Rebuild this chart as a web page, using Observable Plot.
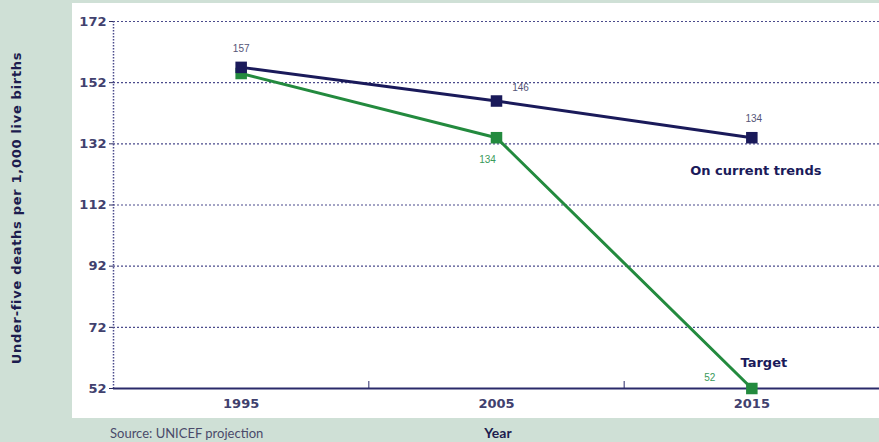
<!DOCTYPE html>
<html>
<head>
<meta charset="utf-8">
<script src="https://cdn.jsdelivr.net/npm/d3@7"></script>
<script src="https://cdn.jsdelivr.net/npm/@observablehq/plot@0.6"></script>
<style>
  html, body { margin: 0; padding: 0; background: #cfe0d6; }
  #wrap { position: relative; width: 879px; height: 442px; overflow: hidden; background: #cfe0d6; }
  #chart { position: absolute; left: 72px; top: 3px; }
  #chart svg { background: #ffffff; display: block; }
  .ytitle {
    position: absolute; left: 16px; top: 208px;
    transform: translate(-50%, -50%) rotate(-90deg);
    white-space: nowrap; font: bold 13px "DejaVu Sans", sans-serif; letter-spacing: 0.7px; color: #1c1c4e;
  }
  .xtitle {
    position: absolute; left: 498px; top: 424px; transform: translateX(-50%);
    font: bold 14px "Lato", sans-serif; color: #1c1c4e;
  }
  .source {
    position: absolute; left: 110px; top: 425px;
    font: 13px "Lato", sans-serif; color: #4a4a6a;
  }
</style>
</head>
<body>
<div id="wrap">
  <div class="ytitle">Under-five deaths per 1,000 live births</div>
  <div id="chart"></div>
  <div class="source">Source: UNICEF projection</div>
  <div class="xtitle">Year</div>
</div>
<script>
// Under-five mortality: current trend versus the target path
const years = [1995, 2005, 2015];
const currentTrend = [157, 146, 134];
const targetPath = [155, 134, 52];
const yTicks = [52, 72, 92, 112, 132, 152, 172];
const xTicks = [1995, 2005, 2015];
const minorXTicks = [2000, 2010];

const navy = "#1a1a5a";
const green = "#238a3e";

const trend = years.map((year, i) => ({year, value: currentTrend[i]}));
const target = years.map((year, i) => ({year, value: targetPath[i]}));

const chart = Plot.plot({
  width: 807,
  height: 415,
  marginLeft: 41,
  marginRight: 0,
  marginTop: 18,
  marginBottom: 30,
  style: {background: "#ffffff", fontFamily: "Liberation Sans, sans-serif"},
  x: {domain: [1990, 2020], label: null},
  y: {domain: [52, 172], label: null},
  marks: [
    // dotted horizontal gridlines
    Plot.ruleY(yTicks.filter(d => d !== 52), {stroke: "#4b4b8c", strokeWidth: 1.2, strokeDasharray: "2,2"}),
    // dotted left axis line
    Plot.ruleX([1990], {stroke: "#4b4b8c", strokeWidth: 1.5, strokeDasharray: "1.5,1.5"}),
    // solid baseline
    Plot.ruleY([52], {stroke: "#2a2a6a", strokeWidth: 2}),
    Plot.axisY({ticks: yTicks, tickSize: 4, tickPadding: 3, tickFormat: d => String(d), label: null,
      fontSize: 13, fontWeight: "bold", fontFamily: "DejaVu Sans, sans-serif", fill: "#41416e", stroke: "#2e2e5e"}),
    Plot.axisX({ticks: xTicks, tickSize: 0, tickPadding: 10, tickFormat: d => String(d), label: null,
      fontSize: 13, fontWeight: "bold", fontFamily: "DejaVu Sans, sans-serif", fill: "#41416e"}),
    Plot.axisX({ticks: minorXTicks, tickSize: -7, tickFormat: () => "", label: null, stroke: "#2a2a6a"}),
    // target path
    Plot.line(target, {x: "year", y: "value", stroke: green, strokeWidth: 3}),
    Plot.dot(target, {x: "year", y: "value", symbol: "square", r: 6.5, fill: green}),
    // current trend
    Plot.line(trend, {x: "year", y: "value", stroke: navy, strokeWidth: 3}),
    Plot.dot(trend, {x: "year", y: "value", symbol: "square", r: 6.5, fill: navy}),
    // value labels
    Plot.text(trend.slice(0, 1), {x: "year", y: "value", text: d => String(d.value), dy: -19, fontSize: 10, fill: "#555577"}),
    Plot.text(trend.slice(1, 2), {x: "year", y: "value", text: d => String(d.value), dx: 24, dy: -13, fontSize: 10, fill: "#555577"}),
    Plot.text(trend.slice(2, 3), {x: "year", y: "value", text: d => String(d.value), dx: 2, dy: -19, fontSize: 10, fill: "#555577"}),
    Plot.text(target.slice(1, 2), {x: "year", y: "value", text: d => String(d.value), dx: -9, dy: 22, fontSize: 10, fill: "#3a9a5a"}),
    Plot.text(target.slice(2, 3), {x: "year", y: "value", text: d => String(d.value), dx: -42, dy: -11, fontSize: 10, fill: "#3a9a5a"}),
    // series annotations
    Plot.text(trend.slice(2, 3), {x: "year", y: "value", text: () => "On current trends", dx: 4, dy: 33,
      fontSize: 13, fontWeight: "bold", fill: navy, fontFamily: "DejaVu Sans, sans-serif"}),
    Plot.text(target.slice(2, 3), {x: "year", y: "value", text: () => "Target", dx: 12, dy: -26,
      fontSize: 13, fontWeight: "bold", fill: navy, fontFamily: "DejaVu Sans, sans-serif"})
  ]
});

document.getElementById("chart").appendChild(chart);
</script>
</body>
</html>
